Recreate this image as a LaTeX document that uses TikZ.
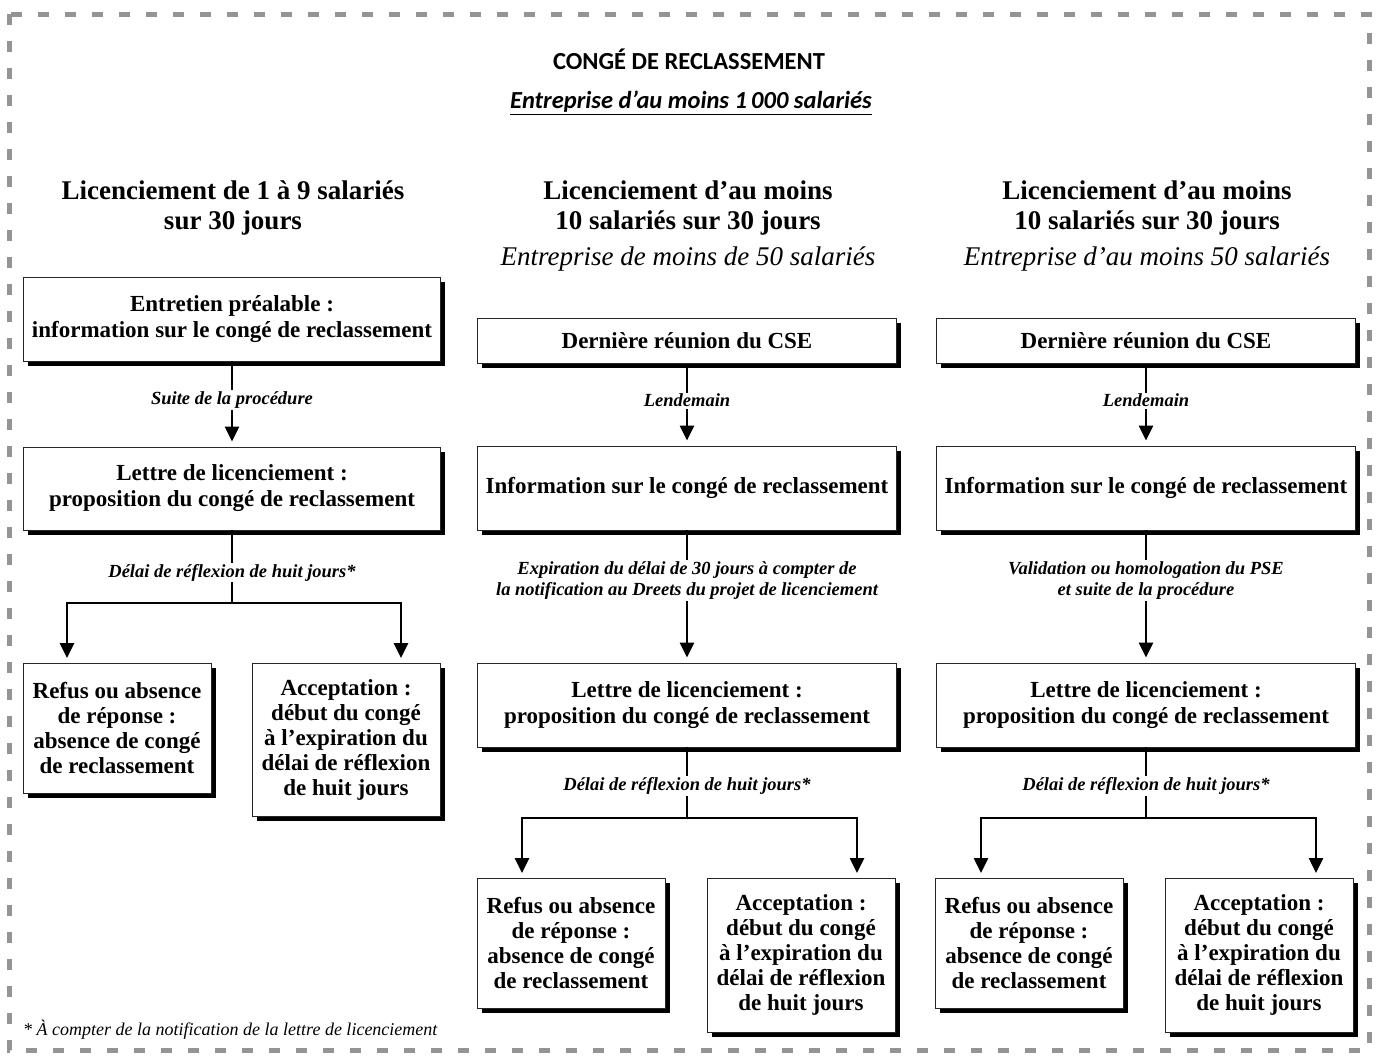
\documentclass[tikz,border=0pt]{standalone}
\usepackage{fontspec}
\setmainfont{Liberation Serif}
\newfontfamily\titrefont{Carlito}
\usetikzlibrary{arrows.meta,shadows}

\begin{document}
\begin{tikzpicture}[x=1pt, y=-1pt,
	boite/.style = {draw=black!85, line width=0.8pt, fill=white, inner sep=0pt, align=center,
		font=\fontsize{23}{26}\selectfont\bfseries,
		drop shadow={shadow xshift=4.5pt, shadow yshift=-4.5pt, fill=black, opacity=1}},
	large/.style = {boite, minimum width=419pt},
	petite/.style = {boite, minimum width=188pt, font=\fontsize{23}{25}\selectfont\bfseries},
	fleche/.style = {line width=2.6pt, -{Triangle[width=14pt, length=15pt]}, shorten >=5pt},
	trait/.style = {line width=2.6pt},
	etiq/.style = {fill=white, inner sep=1.5pt, align=center,
		font=\fontsize{18.5}{21}\selectfont\bfseries\itshape},
	entete/.style = {align=center, font=\fontsize{27}{30}\selectfont\bfseries}]
\useasboundingbox (0,0) rectangle (1378,1055);
\draw[black!42, line width=5pt, dash pattern=on 11pt off 16pt] (9,14) rectangle (1369,1050);

%titre
\node (titre) at (689,59) {\titrefont\fontsize{24.5}{27}\selectfont\bfseries CONGÉ DE RECLASSEMENT};
\node (soustitre) at (691,103) {\titrefont\fontsize{24.5}{27}\selectfont\bfseries\itshape \underline{Entreprise d’au moins 1\,000 salariés}};

%en-tetes
\node[entete] (tete1) at (233,208) {Licenciement de 1 à 9 salariés\\sur 30 jours};
\node[entete] (tete2) at (688,226) {Licenciement d’au moins\\10 salariés sur 30 jours\\[6pt]{\mdseries\itshape Entreprise de moins de 50 salariés}};
\node[entete] (tete3) at (1147,226) {Licenciement d’au moins\\10 salariés sur 30 jours\\[6pt]{\mdseries\itshape Entreprise d’au moins 50 salariés}};

%colonne 1
\node[large, minimum width=417pt, minimum height=84pt] (entretienA) at (232,319) {Entretien préalable :\\information sur le congé de reclassement};
\node[large, minimum width=417pt, minimum height=83pt] (lettreA) at (232,488.5) {Lettre de licenciement :\\proposition du congé de reclassement};
\node[petite, minimum height=130pt] (refusA) at (117,728) {Refus ou absence\\de réponse :\\absence de congé\\de reclassement};
\node[petite, minimum height=153pt] (accepA) at (346,739.5) {Acceptation :\\début du congé\\à l’expiration du\\délai de réflexion\\de huit jours};
\coordinate (sepA) at (232,603);
\coordinate (gA) at (67,663);
\coordinate (dA) at (401,663);
\draw[fleche] (entretienA) -- node[etiq, pos=0.45] {Suite de la procédure} (lettreA);
\draw[trait] (lettreA) -- node[etiq, pos=0.58] {Délai de réflexion de huit jours*} (sepA);
\draw[fleche] (sepA) -| (gA);
\draw[fleche] (sepA) -| (dA);

%colonne 2
\node[large, minimum height=45pt] (cseB) at (687,341) {Dernière réunion du CSE};
\node[large, minimum height=84pt] (infoB) at (687,488) {Information sur le congé de reclassement};
\node[large, minimum height=84pt] (lettreB) at (687,705) {Lettre de licenciement :\\proposition du congé de reclassement};
\node[petite, minimum height=130pt] (refusB) at (571,943) {Refus ou absence\\de réponse :\\absence de congé\\de reclassement};
\node[petite, minimum height=154pt] (accepB) at (801,955) {Acceptation :\\début du congé\\à l’expiration du\\délai de réflexion\\de huit jours};
\coordinate (sepB) at (687,818);
\coordinate (gB) at (522,878);
\coordinate (dB) at (857,878);
\draw[fleche] (cseB) -- node[etiq, pos=0.45] {Lendemain} (infoB);
\draw[fleche] (infoB) -- node[etiq, pos=0.38] {Expiration du délai de 30 jours à compter de\\la notification au Dreets du projet de licenciement} (lettreB);
\draw[trait] (lettreB) -- node[etiq, pos=0.54] {Délai de réflexion de huit jours*} (sepB);
\draw[fleche] (sepB) -| (gB);
\draw[fleche] (sepB) -| (dB);

%colonne 3
\node[large, minimum height=45pt] (cseC) at (1146,341) {Dernière réunion du CSE};
\node[large, minimum height=84pt] (infoC) at (1146,488) {Information sur le congé de reclassement};
\node[large, minimum height=84pt] (lettreC) at (1146,705) {Lettre de licenciement :\\proposition du congé de reclassement};
\node[petite, minimum height=130pt] (refusC) at (1029,943) {Refus ou absence\\de réponse :\\absence de congé\\de reclassement};
\node[petite, minimum height=154pt] (accepC) at (1259,955) {Acceptation :\\début du congé\\à l’expiration du\\délai de réflexion\\de huit jours};
\coordinate (sepC) at (1146,818);
\coordinate (gC) at (981,878);
\coordinate (dC) at (1316,878);
\draw[fleche] (cseC) -- node[etiq, pos=0.45] {Lendemain} (infoC);
\draw[fleche] (infoC) -- node[etiq, pos=0.38] {Validation ou homologation du PSE\\et suite de la procédure} (lettreC);
\draw[trait] (lettreC) -- node[etiq, pos=0.54] {Délai de réflexion de huit jours*} (sepC);
\draw[fleche] (sepC) -| (gC);
\draw[fleche] (sepC) -| (dC);

%note
\node[anchor=west, inner sep=0pt, font=\fontsize{18}{20}\selectfont\itshape] (note) at (23,1030) {* À compter de la notification de la lettre de licenciement};
\end{tikzpicture}
\end{document}
